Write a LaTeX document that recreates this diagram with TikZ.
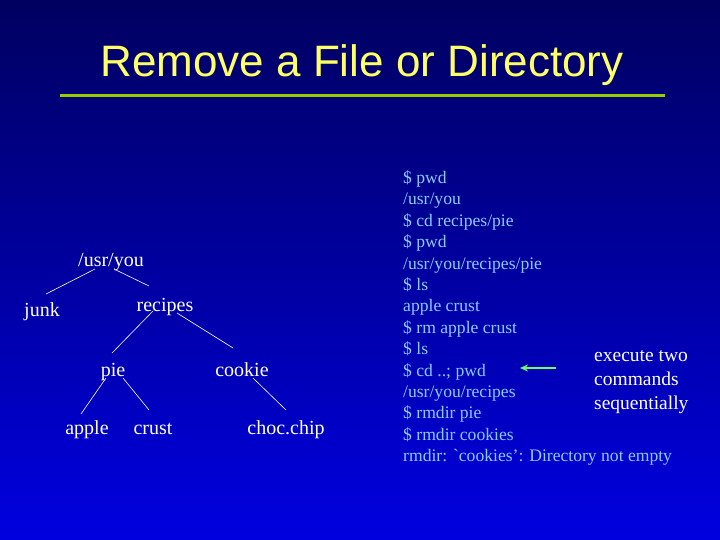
\documentclass[tikz,border=0pt]{standalone}
\usepackage{fontspec}
\setmainfont{Liberation Serif}
\newfontfamily\titlefont{Liberation Sans}
\usetikzlibrary{arrows.meta}
\definecolor{navytop}{HTML}{000060}
\definecolor{navybot}{HTML}{0000E0}
\definecolor{ttl}{HTML}{FFFF66}
\definecolor{term}{HTML}{88CCFF}
\definecolor{uline}{HTML}{99CC00}
\definecolor{arr}{HTML}{66FF66}
\begin{document}
\begin{tikzpicture}[x=1pt,y=-1pt,
  tn/.style={text=white,font=\fontsize{20}{22}\selectfont,inner sep=0pt,anchor=base},
  edge/.style={white,line width=0.6pt},
  tl/.style={text=term,font=\fontsize{17.6}{20}\selectfont,inner sep=0pt,anchor=base west}]
\shade[top color=navytop,bottom color=navybot] (0,0) rectangle (720,540);
\useasboundingbox (0,0) rectangle (720,540);
\node[text=ttl,font=\titlefont\fontsize{44}{48}\selectfont,inner sep=0pt] (title) at (362,65) {Remove a File or Directory};
\coordinate (u1) at (60,96); \coordinate (u2) at (665,96);
\draw[uline,line width=3pt] (u1) -- (u2);
\node[tn] (usr) at (111,266) {/usr/you};
\node[tn] (junk) at (42,316) {junk};
\node[tn] (rec) at (165,311) {recipes};
\node[tn] (pie) at (113,376) {pie};
\node[tn] (cook) at (242,376) {cookie};
\node[tn] (apple) at (87,434) {apple};
\node[tn] (crust) at (153,434) {crust};
\node[tn] (choc) at (286,434) {choc.chip};
\draw[edge] ([shift={(-16,3)}]usr.base) -- ([shift={(4,-22)}]junk.base);
\draw[edge] ([shift={(5,4)}]usr.base) -- ([shift={(-16,-25)}]rec.base);
\draw[edge] ([shift={(-12,0)}]rec.base) -- ([shift={(-1,-23)}]pie.base);
\draw[edge] ([shift={(12,2)}]rec.base) -- ([shift={(-9,-28)}]cook.base);
\draw[edge] ([shift={(-7,2)}]pie.base) -- ([shift={(-6,-20)}]apple.base);
\draw[edge] ([shift={(10,2)}]pie.base) -- ([shift={(-4,-24)}]crust.base);
\draw[edge] ([shift={(11,2)}]cook.base) -- ([shift={(0,-24)}]choc.base);
\foreach \t [count=\i] in {{\$ pwd},{/usr/you},{\$ cd recipes/pie},{\$ pwd},{/usr/you/recipes/pie},{\$ ls},{apple crust},{\$ rm apple crust},{\$ ls},{\$ cd ..; pwd},{/usr/you/recipes},{\$ rmdir pie},{\$ rmdir cookies},{rmdir: \textasciigrave cookies': Directory not empty}}
  \node[tl] (l\i) at (403,{162+21.4*\i}) {\t};
\node[text=white,font=\fontsize{19.5}{24}\selectfont,align=left,anchor=north west,inner sep=0pt] (exe) at (594,350) {execute two\\commands\\sequentially};
\coordinate (a1) at (556,368);
\coordinate (a2) at (520,368);
\draw[arr,line width=2.5pt,-{Stealth[length=8pt,width=7pt]}] (a1) -- (a2);
\end{tikzpicture}
\end{document}
